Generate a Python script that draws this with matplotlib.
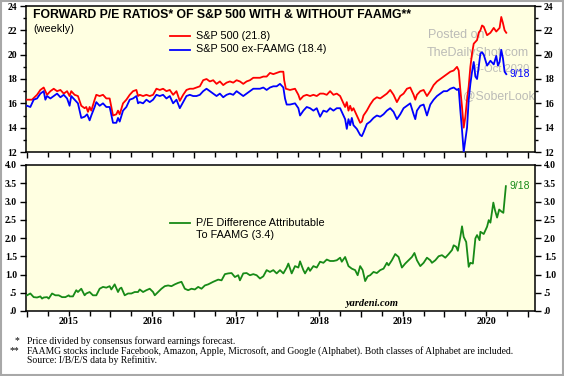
import matplotlib
matplotlib.use('Agg')
import matplotlib.pyplot as plt
from matplotlib.patches import Rectangle
from matplotlib.transforms import blended_transform_factory

# ---------------- data (decimal years) ----------------
red_x = [2015.00, 2015.06, 2015.12, 2015.16, 2015.20, 2015.24, 2015.28, 2015.32, 2015.36, 2015.40,
         2015.44, 2015.48, 2015.51, 2015.53, 2015.57, 2015.61, 2015.65, 2015.69, 2015.71, 2015.73,
         2015.75, 2015.77, 2015.81, 2015.83, 2015.87, 2015.91, 2015.95, 2015.99, 2016.03, 2016.07,
         2016.09, 2016.11, 2016.15, 2016.19, 2016.23, 2016.27, 2016.31, 2016.33, 2016.35, 2016.39,
         2016.43, 2016.47, 2016.51, 2016.55, 2016.59, 2016.63, 2016.67, 2016.71, 2016.75, 2016.79,
         2016.83, 2016.87, 2016.91, 2016.95, 2016.99, 2017.03, 2017.07, 2017.11, 2017.15, 2017.19,
         2017.23, 2017.27, 2017.31, 2017.35, 2017.39, 2017.43, 2017.47, 2017.51, 2017.55, 2017.59,
         2017.63, 2017.67, 2017.71, 2017.75, 2017.79, 2017.83, 2017.87, 2017.91, 2017.95, 2017.99,
         2018.03, 2018.07, 2018.08, 2018.10, 2018.15, 2018.21, 2018.25, 2018.27, 2018.31, 2018.35,
         2018.39, 2018.43, 2018.47, 2018.51, 2018.55, 2018.59, 2018.63, 2018.67, 2018.71, 2018.75,
         2018.79, 2018.81, 2018.83, 2018.85, 2018.87, 2018.89, 2018.91, 2018.95, 2018.99, 2019.01,
         2019.03, 2019.07, 2019.11, 2019.15, 2019.19, 2019.23, 2019.27, 2019.31, 2019.35, 2019.39,
         2019.43, 2019.47, 2019.51, 2019.55, 2019.59, 2019.63, 2019.65, 2019.67, 2019.71, 2019.75,
         2019.79, 2019.83, 2019.87, 2019.91, 2019.95, 2019.99, 2020.03, 2020.07, 2020.11, 2020.15,
         2020.17, 2020.19, 2020.21, 2020.23, 2020.25, 2020.27, 2020.29, 2020.31, 2020.33, 2020.35,
         2020.39, 2020.41, 2020.43, 2020.45, 2020.47, 2020.51, 2020.55, 2020.59, 2020.62, 2020.66,
         2020.68, 2020.70, 2020.72, 2020.74]
red_y = [16.3, 16.3, 16.7, 17.1, 17.3, 16.7, 17.0, 17.2, 17.0, 17.1,
         16.8, 17.0, 16.6, 17.0, 16.7, 16.6, 15.8, 15.6, 15.7, 15.3,
         15.7, 15.4, 16.3, 16.7, 16.6, 16.7, 16.4, 16.4, 15.0, 15.1,
         15.4, 15.1, 16.0, 16.3, 16.7, 17.0, 17.1, 16.6, 16.7, 16.6,
         16.7, 16.6, 16.7, 17.2, 17.1, 17.2, 17.0, 17.1, 16.7, 17.0,
         16.2, 16.7, 17.1, 17.2, 17.2, 17.3, 17.4, 17.9, 18.0, 17.8,
         17.9, 17.6, 17.8, 17.5, 17.7, 17.8, 17.7, 17.9, 17.8, 17.6,
         17.8, 17.9, 18.1, 18.1, 18.1, 18.2, 18.2, 18.5, 18.4, 18.5,
         18.6, 18.6, 17.9, 17.2, 17.1, 17.2, 16.7, 16.3, 16.6, 16.7,
         16.6, 16.7, 16.6, 16.8, 16.8, 16.7, 17.0, 16.7, 16.8, 16.6,
         16.0, 15.7, 16.1, 15.4, 15.8, 15.4, 15.6, 15.0, 14.4, 14.5,
         15.0, 15.4, 15.9, 16.3, 16.5, 16.4, 16.6, 16.8, 17.1, 16.7,
         16.1, 16.6, 16.8, 17.2, 17.3, 16.7, 16.3, 16.7, 17.0, 17.1,
         16.6, 17.0, 17.5, 17.8, 18.0, 18.2, 18.4, 18.6, 18.7, 19.0,
         18.7, 17.1, 15.7, 14.0, 14.9, 16.3, 17.4, 19.0, 20.1, 20.9,
         21.2, 21.8, 22.0, 22.4, 22.3, 21.6, 21.8, 22.2, 21.9, 22.2,
         23.1, 22.6, 22.0, 21.8]

blue_x = [2015.00, 2015.04, 2015.08, 2015.12, 2015.16, 2015.20, 2015.22, 2015.24, 2015.28, 2015.32,
          2015.36, 2015.40, 2015.44, 2015.48, 2015.51, 2015.53, 2015.57, 2015.61, 2015.65, 2015.69,
          2015.72, 2015.75, 2015.77, 2015.81, 2015.83, 2015.87, 2015.91, 2015.95, 2015.99, 2016.03,
          2016.07, 2016.09, 2016.11, 2016.15, 2016.19, 2016.23, 2016.27, 2016.31, 2016.33, 2016.35,
          2016.39, 2016.43, 2016.47, 2016.51, 2016.55, 2016.59, 2016.63, 2016.67, 2016.71, 2016.75,
          2016.79, 2016.83, 2016.87, 2016.91, 2016.95, 2016.99, 2017.03, 2017.07, 2017.11, 2017.15,
          2017.19, 2017.23, 2017.27, 2017.31, 2017.35, 2017.39, 2017.43, 2017.47, 2017.51, 2017.55,
          2017.59, 2017.63, 2017.67, 2017.71, 2017.75, 2017.79, 2017.83, 2017.87, 2017.91, 2017.95,
          2017.99, 2018.03, 2018.07, 2018.09, 2018.11, 2018.15, 2018.21, 2018.25, 2018.27, 2018.31,
          2018.35, 2018.39, 2018.43, 2018.47, 2018.51, 2018.55, 2018.59, 2018.63, 2018.67, 2018.71,
          2018.75, 2018.79, 2018.81, 2018.83, 2018.85, 2018.87, 2018.89, 2018.91, 2018.95, 2018.99,
          2019.01, 2019.03, 2019.07, 2019.11, 2019.15, 2019.19, 2019.23, 2019.27, 2019.31, 2019.35,
          2019.39, 2019.43, 2019.47, 2019.51, 2019.55, 2019.59, 2019.63, 2019.65, 2019.67, 2019.71,
          2019.75, 2019.79, 2019.83, 2019.87, 2019.91, 2019.95, 2019.99, 2020.03, 2020.07, 2020.11,
          2020.15, 2020.17, 2020.19, 2020.21, 2020.23, 2020.25, 2020.27, 2020.29, 2020.31, 2020.33,
          2020.35, 2020.37, 2020.39, 2020.41, 2020.43, 2020.45, 2020.47, 2020.51, 2020.55, 2020.59,
          2020.62, 2020.64, 2020.66, 2020.68, 2020.70, 2020.72, 2020.74]
blue_y = [15.8, 15.7, 16.3, 16.4, 16.8, 17.0, 16.3, 16.6, 16.4, 16.6,
          16.8, 16.5, 16.7, 16.4, 15.8, 16.6, 16.3, 16.0, 14.8, 14.9,
          15.1, 14.6, 15.0, 15.7, 16.1, 15.8, 16.0, 15.7, 15.7, 14.4,
          14.4, 14.8, 14.5, 15.4, 15.7, 16.3, 16.4, 16.6, 16.0, 16.1,
          16.0, 16.3, 16.1, 16.3, 16.7, 16.6, 16.7, 16.4, 16.6, 16.0,
          16.3, 15.6, 16.1, 16.6, 16.7, 16.6, 16.6, 16.7, 17.0, 17.2,
          17.0, 16.8, 16.6, 16.8, 16.5, 16.7, 16.8, 16.7, 17.0, 16.8,
          16.6, 16.8, 17.0, 17.2, 17.2, 17.2, 17.3, 17.1, 17.3, 17.4,
          17.4, 17.6, 17.3, 16.4, 15.9, 15.9, 16.0, 15.6, 15.0, 15.4,
          15.7, 15.6, 15.4, 15.6, 14.9, 15.4, 15.3, 15.6, 15.4, 15.6,
          15.6, 15.0, 14.7, 13.9, 14.7, 14.2, 14.8, 14.2, 13.9, 13.4,
          13.3, 13.6, 14.3, 14.5, 14.8, 15.0, 14.9, 15.1, 15.4, 15.6,
          15.3, 14.7, 15.1, 15.6, 15.8, 16.0, 15.1, 14.7, 15.4, 15.8,
          15.9, 15.0, 15.9, 16.3, 16.6, 16.8, 17.0, 17.0, 17.2, 17.3,
          17.1, 17.2, 15.4, 13.8, 12.0, 13.0, 14.0, 16.3, 17.6, 18.6,
          19.4, 18.2, 18.0, 19.0, 20.1, 20.2, 20.0, 19.1, 19.5, 19.2,
          19.9, 19.1, 19.4, 20.4, 19.7, 18.6, 18.4]

green_x = [2015.00, 2015.04, 2015.08, 2015.12, 2015.16, 2015.18, 2015.20, 2015.24, 2015.26, 2015.30,
           2015.34, 2015.38, 2015.42, 2015.46, 2015.50, 2015.51, 2015.55, 2015.59, 2015.61, 2015.65,
           2015.67, 2015.69, 2015.71, 2015.75, 2015.79, 2015.83, 2015.87, 2015.91, 2015.95, 2015.99,
           2016.01, 2016.05, 2016.09, 2016.11, 2016.13, 2016.17, 2016.21, 2016.25, 2016.29, 2016.33,
           2016.35, 2016.39, 2016.43, 2016.47, 2016.51, 2016.53, 2016.57, 2016.61, 2016.65, 2016.69,
           2016.73, 2016.77, 2016.81, 2016.85, 2016.89, 2016.93, 2016.97, 2017.01, 2017.05, 2017.09,
           2017.13, 2017.17, 2017.23, 2017.29, 2017.33, 2017.37, 2017.41, 2017.45, 2017.49, 2017.53,
           2017.55, 2017.59, 2017.63, 2017.67, 2017.71, 2017.75, 2017.79, 2017.83, 2017.87, 2017.91,
           2017.95, 2017.99, 2018.03, 2018.07, 2018.11, 2018.13, 2018.17, 2018.21, 2018.25, 2018.27,
           2018.31, 2018.33, 2018.37, 2018.39, 2018.43, 2018.47, 2018.51, 2018.55, 2018.59, 2018.63,
           2018.67, 2018.71, 2018.75, 2018.77, 2018.81, 2018.85, 2018.89, 2018.93, 2018.96, 2018.99,
           2019.02, 2019.05, 2019.08, 2019.11, 2019.15, 2019.19, 2019.23, 2019.27, 2019.31, 2019.33,
           2019.37, 2019.41, 2019.45, 2019.49, 2019.53, 2019.57, 2019.61, 2019.64, 2019.67, 2019.71,
           2019.75, 2019.79, 2019.83, 2019.85, 2019.89, 2019.93, 2019.97, 2020.01, 2020.05, 2020.09,
           2020.11, 2020.14, 2020.16, 2020.19, 2020.21, 2020.23, 2020.26, 2020.29, 2020.31, 2020.34,
           2020.37, 2020.39, 2020.42, 2020.43, 2020.47, 2020.51, 2020.53, 2020.55, 2020.585, 2020.605,
           2020.63, 2020.655, 2020.685, 2020.705, 2020.735]
green_y = [0.43, 0.48, 0.38, 0.37, 0.40, 0.34, 0.37, 0.38, 0.34, 0.48,
           0.43, 0.43, 0.38, 0.38, 0.43, 0.40, 0.40, 0.57, 0.52, 0.61,
           0.52, 0.43, 0.48, 0.52, 0.43, 0.43, 0.61, 0.66, 0.64, 0.68,
           0.59, 0.73, 0.52, 0.61, 0.64, 0.43, 0.48, 0.48, 0.52, 0.52,
           0.59, 0.52, 0.57, 0.61, 0.52, 0.43, 0.52, 0.61, 0.68, 0.70,
           0.68, 0.73, 0.77, 0.80, 0.61, 0.57, 0.61, 0.59, 0.66, 0.61,
           0.70, 0.73, 0.80, 0.86, 0.84, 1.01, 1.03, 1.04, 0.93, 0.98,
           0.84, 1.03, 1.04, 0.98, 1.01, 0.98, 0.89, 0.95, 1.12, 1.07,
           1.12, 1.03, 1.12, 1.03, 1.19, 1.30, 1.03, 1.23, 1.19, 1.36,
           1.12, 1.03, 1.19, 1.10, 1.23, 1.19, 1.35, 1.32, 1.41, 1.37,
           1.37, 1.39, 1.46, 1.35, 1.48, 1.23, 1.16, 1.12, 0.98, 1.23,
           1.12, 0.82, 0.95, 0.98, 1.07, 1.04, 1.12, 1.16, 1.32, 1.25,
           1.39, 1.56, 1.48, 1.19, 1.30, 1.39, 1.48, 1.59, 1.39, 1.23,
           1.32, 1.46, 1.39, 1.32, 1.39, 1.50, 1.53, 1.46, 1.56, 1.67,
           1.80, 1.76, 1.65, 2.03, 2.32, 2.03, 1.89, 1.21, 1.32, 1.30,
           1.99, 2.08, 1.94, 2.17, 2.11, 2.31, 2.49, 2.42, 2.97, 2.76,
           2.56, 2.78, 2.72, 2.69, 3.42]

year_ticks = [2015, 2016, 2017, 2018, 2019, 2020, 2021]
year_labels = ['2015', '2016', '2017', '2018', '2019', '2020']
top_yticks = [12, 14, 16, 18, 20, 22, 24]
bot_yticks = [0.0, 0.5, 1.0, 1.5, 2.0, 2.5, 3.0, 3.5, 4.0]
bot_ylabels = ['.0', '.5', '1.0', '1.5', '2.0', '2.5', '3.0', '3.5', '4.0']

# ---------------- figure ----------------
W, H, DPI = 564, 376, 100
fig = plt.figure(figsize=(W / DPI, H / DPI), dpi=DPI)
fig.patch.set_facecolor('white')

def fx(px):
    return px / W

def fy(py):
    return 1 - py / H

BG = '#FFFFE1'
SERIF = 'Liberation Serif'
SANS = 'Liberation Sans'
XL = (2014.988, 2021.084)
GREEN = '#178A17'

ax1 = fig.add_axes([fx(26), fy(152), fx(535) - fx(26), fy(6) - fy(152)])
ax2 = fig.add_axes([fx(26), fy(311), fx(535) - fx(26), fy(165) - fy(311)])

quarters = [y + q / 4 for y in range(2015, 2021) for q in (1, 2, 3)]

for ax in (ax1, ax2):
    ax.set_facecolor(BG)
    ax.set_xlim(*XL)
    for s in ax.spines.values():
        s.set_linewidth(1.1)
        s.set_color('black')
    ax.set_xticks(year_ticks)
    ax.set_xticklabels([])
    ax.set_xticks(quarters, minor=True)
    ax.tick_params(axis='x', which='major', direction='out', length=4.5, width=1.0,
                   top=False, bottom=True)
    ax.tick_params(axis='x', which='minor', direction='out', length=3.5, width=1.0,
                   top=False, bottom=True)
    ax.tick_params(axis='y', which='both', left=True, right=True,
                   labelleft=True, labelright=True, direction='out', width=1.0)
    ax.tick_params(axis='y', which='major', length=4.5, pad=2)
    ax.tick_params(axis='y', which='minor', length=2.5)

# top panel
ax1.plot(red_x, red_y, color='#FF0000', lw=1.3, zorder=3)
ax1.plot(blue_x, blue_y, color='#0000FF', lw=1.3, zorder=3)
ax1.set_ylim(12, 24)
ax1.set_yticks(top_yticks)
ax1.set_yticks([13, 15, 17, 19, 21, 23], minor=True)
for lab in ax1.get_yticklabels():
    lab.set_fontfamily(SERIF)
    lab.set_fontsize(7.0)
    lab.set_fontweight('bold')

# bottom panel
ax2.plot(green_x, green_y, color=GREEN, lw=1.3, zorder=3)
ax2.set_ylim(0, 4)
ax2.set_yticks(bot_yticks)
ax2.set_yticklabels(bot_ylabels)
for lab in ax2.get_yticklabels():
    lab.set_fontfamily(SERIF)
    lab.set_fontsize(7.0)
    lab.set_fontweight('bold')

# year labels
tr = blended_transform_factory(ax2.transData, fig.transFigure)
for i, lab in enumerate(year_labels):
    ax2.text(year_ticks[i] + 0.5, fy(321), lab, transform=tr, ha='center', va='center',
             fontsize=7.2, fontfamily=SERIF, fontweight='bold', clip_on=False)

# titles & legend
fig.text(fx(33), fy(15), 'FORWARD P/E RATIOS* OF S&P 500 WITH & WITHOUT FAAMG**',
         fontsize=8.8, fontweight='bold', fontfamily=SANS, va='center', ha='left')
fig.text(fx(33), fy(29), '(weekly)', fontsize=7.8, fontfamily=SANS, va='center', ha='left')

def legline(y, color, label_lines):
    fig.add_artist(plt.Line2D([fx(170), fx(190)], [fy(y), fy(y)], color=color, lw=1.3,
                              transform=fig.transFigure))
    for k, t in enumerate(label_lines):
        fig.text(fx(196), fy(y + 11.5 * k), t, fontsize=7.8, fontfamily=SANS,
                 va='center', ha='left')

legline(36, '#FF0000', ['S&P 500 (21.8)'])
legline(49.5, '#0000FF', ['S&P 500 ex-FAAMG (18.4)'])
legline(223, GREEN, ['P/E Difference Attributable', 'To FAAMG (3.4)'])

# watermark (inside top axes, beneath the data lines)
wm = dict(color='#b0b0b0', alpha=0.85, fontfamily=SANS, va='center', ha='left', zorder=1,
          transform=fig.transFigure, clip_on=False)
ax1.text(fx(428), fy(35), 'Posted on', fontsize=9, **wm)
ax1.text(fx(427), fy(53), 'TheDailyShot.com', fontsize=9, **wm)
ax1.text(fx(474), fy(69), '6-Oct 2020', fontsize=8, **wm)
ax1.text(fx(463), fy(96), '@SoberLook', fontsize=8.8, **wm)

fig.text(fx(510), fy(74), '9/18', color='#0000FF', fontsize=7.5, fontfamily=SANS,
         va='center', ha='left')
fig.text(fx(509), fy(186), '9/18', color=GREEN, fontsize=7.5, fontfamily=SANS,
         va='center', ha='left')

fig.text(fx(371.5), fy(303), 'yardeni.com', fontsize=7.5, fontfamily=SERIF,
         fontweight='bold', fontstyle='italic', va='center', ha='center')

# footnotes
fn = dict(fontsize=6.9, fontfamily=SERIF, va='center', ha='left')
fig.text(fx(14.5), fy(341), '*', **fn)
fig.text(fx(27), fy(341), 'Price divided by consensus forward earnings forecast.', **fn)
fig.text(fx(10), fy(351), '**', **fn)
fig.text(fx(27), fy(351), 'FAAMG stocks include Facebook, Amazon, Apple, Microsoft, and Google '
         '(Alphabet). Both classes of Alphabet are included.', **fn)
fig.text(fx(27), fy(360), 'Source: I/B/E/S data by Refinitiv.', **fn)

# outer gray border
fig.add_artist(Rectangle((0.002, 0.003), 0.996, 0.994, transform=fig.transFigure,
                         fill=False, edgecolor='#A8A8A8', lw=1.5))

fig.savefig('out.png', dpi=DPI)
